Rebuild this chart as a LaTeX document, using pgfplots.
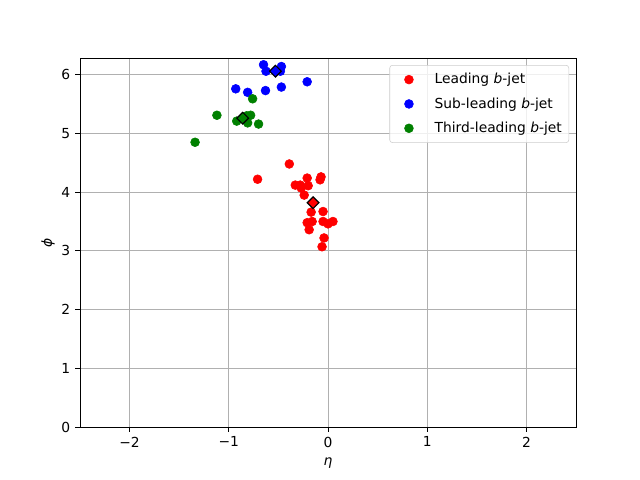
\documentclass[border=0pt]{standalone}
\usepackage{fontspec}
\setmainfont{DejaVu Sans}
\usepackage{pgfplots}
\pgfplotsset{compat=1.18}

\definecolor{mplred}{RGB}{255,0,0}
\definecolor{mplblue}{RGB}{0,0,255}
\definecolor{mplgreen}{RGB}{0,128,0}
\definecolor{gridgray}{RGB}{176,176,176}
\definecolor{legframe}{RGB}{204,204,204}

\begin{document}
\begin{tikzpicture}
\useasboundingbox (0,0) rectangle (6.4in,4.8in);
\begin{axis}[
    at={(0.8in,0.53in)}, anchor=south west,
    scale only axis,
    width=4.96in, height=3.69in,
    xmin=-2.5, xmax=2.5, ymin=0, ymax=6.285,
    xtick={-2,-1,0,1,2},
    xticklabels={−2,−1,0,1,2},
    ytick={0,1,2,3,4,5,6},
    yticklabels={0,1,2,3,4,5,6},
    tick pos=left,
    tick align=outside,
    major tick length=3.5pt,
    tick style={black, line width=0.6pt},
    axis line style={line width=0.6pt},
    grid=major,
    major grid style={gridgray, line width=0.6pt},
    ticklabel style={font=\fontsize{10}{12}\selectfont},
    xlabel={\textit{η}}, ylabel={\textit{ϕ}},
    label style={font=\fontsize{10}{12}\selectfont},
    xlabel style={yshift=-1pt},
    ylabel style={yshift=-2pt},
    legend style={at={(rel axis cs:0.986,0.981)}, anchor=north east,
        draw=legframe, rounded corners=2pt, fill=white, fill opacity=0.8,
        text opacity=1, font=\fontsize{10}{12}\selectfont,
        row sep=4.5pt, inner xsep=3pt, inner ysep=3.8pt},
    legend cell align=left,
    legend image code/.code={\path (0,0) (0.95cm,0);\draw[#1, fill opacity=1, draw opacity=1] plot coordinates {(0.376cm,0cm)};},
]
% Leading b-jet
\addplot[only marks, mark=*, mark size=3.2pt, mplred, mark options={draw=mplred, fill=mplred}] coordinates {
    (-0.39,4.48) (-0.71,4.22) (-0.21,4.24) (-0.07,4.26) (-0.08,4.21)
    (-0.33,4.12) (-0.28,4.12) (-0.20,4.11) (-0.27,4.07) (-0.24,3.95)
    (-0.17,3.66) (-0.05,3.67) (-0.21,3.48) (-0.16,3.50) (-0.05,3.50)
    (0.00,3.46) (0.05,3.50) (-0.19,3.36) (-0.04,3.22) (-0.06,3.07)
};
\addlegendentry{Leading \textit{b}-jet}
% Sub-leading b-jet
\addplot[only marks, mark=*, mark size=3.2pt, mplblue, mark options={draw=mplblue, fill=mplblue}] coordinates {
    (-0.65,6.17) (-0.47,6.14) (-0.625,6.06) (-0.48,6.06) (-0.21,5.88)
    (-0.93,5.76) (-0.81,5.70) (-0.63,5.73) (-0.47,5.79)
};
\addlegendentry{Sub-leading \textit{b}-jet}
% Third-leading b-jet
\addplot[only marks, mark=*, mark size=3.2pt, mplgreen, mark options={draw=mplgreen, fill=mplgreen}] coordinates {
    (-0.76,5.59) (-1.12,5.31) (-0.92,5.21) (-0.78,5.31) (-0.82,5.30)
    (-0.81,5.18) (-0.70,5.16) (-1.34,4.85)
};
\addlegendentry{Third-leading \textit{b}-jet}
% means
\addplot[forget plot, only marks, mark=square*, mark size=3pt, mark options={rotate=45, draw=black, fill=mplred, line width=0.8pt}] coordinates {(-0.15,3.82)};
\addplot[forget plot, only marks, mark=square*, mark size=3pt, mark options={rotate=45, draw=black, fill=mplblue, line width=0.8pt}] coordinates {(-0.53,6.06)};
\addplot[forget plot, only marks, mark=square*, mark size=3pt, mark options={rotate=45, draw=black, fill=mplgreen, line width=0.8pt}] coordinates {(-0.86,5.26)};
\end{axis}
\end{tikzpicture}
\end{document}
